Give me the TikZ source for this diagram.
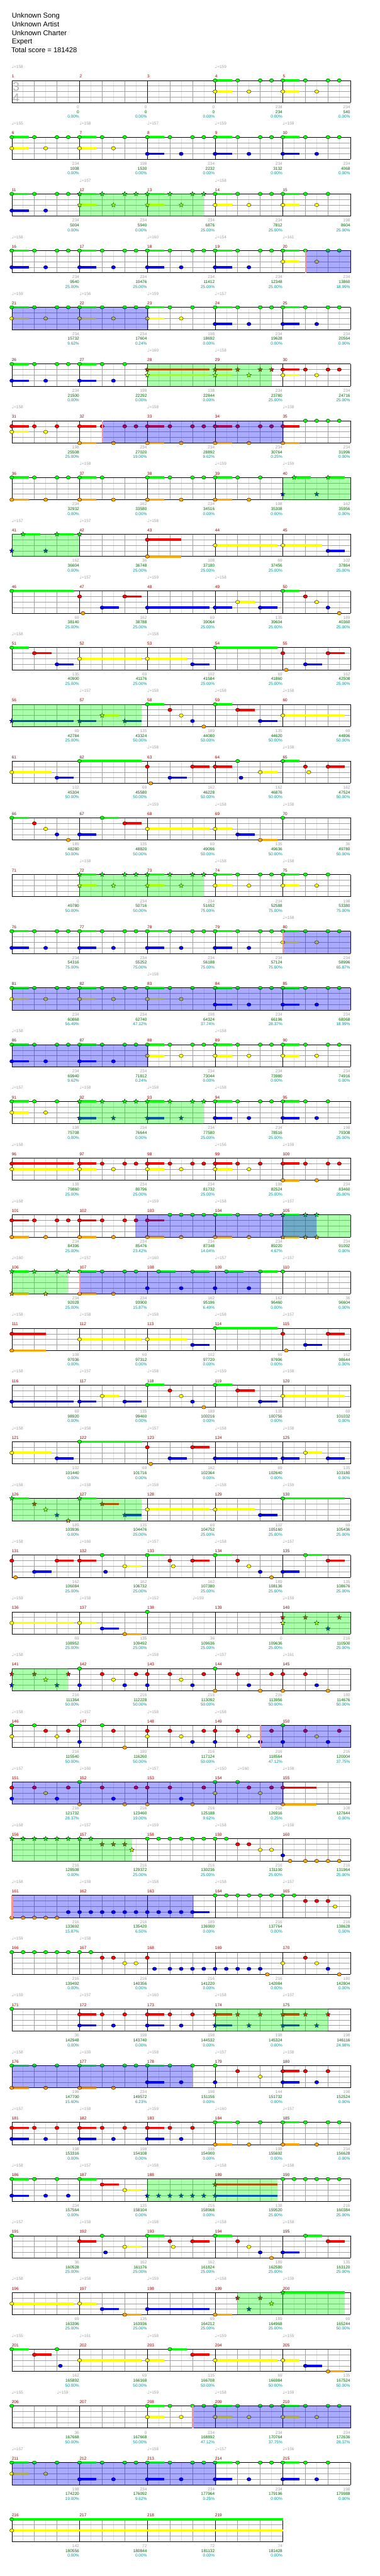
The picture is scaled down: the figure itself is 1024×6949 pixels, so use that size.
\documentclass[tikz,border=0pt]{standalone}
\usepackage{fontspec}
\setmainfont{Liberation Sans}
\newfontfamily\notefont{DejaVu Sans}
\usepackage{xcolor}
\usepackage{tikz}

\definecolor{lane0}{RGB}{0,255,0}
\definecolor{lane1}{RGB}{255,0,0}
\definecolor{lane2}{RGB}{255,255,0}
\definecolor{lane3}{RGB}{0,0,255}
\definecolor{lane4}{RGB}{255,165,0}
\definecolor{gridgray}{RGB}{160,160,160}
\definecolor{gridlight}{RGB}{222,222,222}
\definecolor{measred}{RGB}{150,0,0}
\definecolor{scoregreen}{RGB}{0,102,0}
\definecolor{pctteal}{RGB}{0,150,150}
\definecolor{siggray}{RGB}{180,180,180}
\definecolor{actpink}{RGB}{242,150,150}

\tikzset{
  titleline/.style={anchor=base west, inner sep=0pt, font=\fontsize{19}{23}\selectfont},
  sigdigit/.style={anchor=base west, inner sep=0pt, text=siggray, font=\fontsize{33}{33}\selectfont},
  measnum/.style={anchor=base west, inner sep=0pt, text=measred, font=\fontsize{11}{13}\selectfont},
  tempo/.style={anchor=base west, inner sep=0pt, text=gridgray, font=\fontsize{11}{13}\selectfont},
  basescore/.style={anchor=base east, inner sep=0pt, text=gridgray, font=\fontsize{11}{13}\selectfont},
  runscore/.style={anchor=base east, inner sep=0pt, text=scoregreen, font=\fontsize{11}{13}\selectfont},
  pctlabel/.style={anchor=base east, inner sep=0pt, text=pctteal, font=\fontsize{11}{13}\selectfont},
  staffedge/.style={black, line width=1.3pt},
  lanegrid/.style={gridgray, line width=1pt},
  beatgrid/.style={gridgray, line width=0.8pt},
  halfgrid/.style={gridlight, line width=0.8pt},
  barline/.style={black, line width=0.8pt},
  gem/.style={draw=black, line width=0.6pt},
  spphrase/.style={fill=lane0, fill opacity=0.333},
  spactive/.style={fill=lane3, fill opacity=0.333}
}

% x of an eighth slot in a row, y of the top line of a row
\newcommand\slotx[1]{31.8+(#1)*30.45}
\newcommand\rowtop[1]{217+((#1)-1)*153}

% one staff: row, number of eighth slots
\newcommand\staff[2]{%
  \pgfmathsetmacro\sy{\rowtop{#1}}
  \pgfmathsetmacro\sx{\slotx{#2}}
  \foreach \k in {1,3,...,#2} \draw[halfgrid] ({\slotx{\k}},\sy) -- ++(0,60);
  \foreach \j in {1,2,3} \draw[lanegrid] (31.8,{\sy+15*\j}) -- (\sx,{\sy+15*\j});
  \foreach \k in {2,4,...,#2} \draw[beatgrid] ({\slotx{\k}},\sy) -- ++(0,60);
  \foreach \k in {0,6,...,#2} \draw[barline] ({\slotx{\k}},\sy) -- ++(0,60);
  \draw[staffedge] (31.8,\sy) -- (\sx,\sy) (31.8,{\sy+60}) -- (\sx,{\sy+60});
}

% notes of a row: lane/slot/sustain end (0 = none)
\newcommand\gems[2]{%
  \foreach \gl/\gp/\gf in {#2} {
    \pgfmathsetmacro\gx{\slotx{\gp}}
    \pgfmathsetmacro\gy{\rowtop{#1}+15*\gl}
    \ifdim\gf pt>0pt
      \fill[lane\gl] (\gx,{\gy-3}) rectangle ({\slotx{\gf}},{\gy+3});
    \fi
    \filldraw[gem, fill=lane\gl] (\gx,\gy) ellipse [x radius=5.6pt, y radius=4.6pt];
  }}

% star notes of a row, same format
\newcommand\stargems[2]{%
  \foreach \gl/\gp/\gf in {#2} {
    \pgfmathsetmacro\gx{\slotx{\gp}}
    \pgfmathsetmacro\gy{\rowtop{#1}+15*\gl}
    \ifdim\gf pt>0pt
      \fill[lane\gl] (\gx,{\gy-3}) rectangle ({\slotx{\gf}},{\gy+3});
    \fi
    \filldraw[gem, fill=lane\gl, shift={(\gx,\gy)}] (90:6.5pt) -- (126:2.7pt) -- (162:6.5pt) -- (198:2.7pt)
      -- (234:6.5pt) -- (270:2.7pt) -- (306:6.5pt) -- (342:2.7pt) -- (18:6.5pt) -- (54:2.7pt) -- cycle;
  }}

\begin{document}
\begin{tikzpicture}[x=1pt, y=-1pt]
  \useasboundingbox (0,0) rectangle (1024,6949);
  \fill[white] (0,0) rectangle (1024,6949);

  % header
  \node[titleline] (song) at (31.8,49) {Unknown Song};
  \node[titleline] (artist) at (31.8,72) {Unknown Artist};
  \node[titleline] (charter) at (31.8,95.5) {Unknown Charter};
  \node[titleline] (level) at (31.8,118.5) {Expert};
  \node[titleline] (total) at (30.5,141.5) {Total score = 181428};

  % staffs
  \foreach \sr in {1,...,43} {\staff{\sr}{30}}
  \staff{44}{24}
  \node[sigdigit] (sigtop) at (34,245) {3};
  \node[sigdigit] (sigbot) at (34,275) {4};

  % measure numbers
  \foreach \m in {1,...,219} {
    \pgfmathtruncatemacro\mr{(\m-1)/5}
    \pgfmathtruncatemacro\mc{\m-1-5*\mr}
    \node[measnum] (meas\m) at ({31.8+\mc*182.7},{217+\mr*153-7}) {\m};
  }

  % tempo marks: row/slot/bpm
  \foreach \tr/\tp/\tv [count=\ti] in {1/0/158,1/18/159,
    2/0/155,2/6/158,2/12/157,2/18/159,2/24/159, 3/6/157,3/18/158,
    4/0/158,4/12/160,4/18/154,4/24/161, 5/0/159,5/6/156,5/12/159,5/18/157,
    6/12/160,6/18/158, 7/0/158,7/12/158,7/24/158, 8/6/158,8/18/159,8/24/159,
    9/0/157,9/6/157,9/12/158, 10/6/157,10/12/159,10/18/158, 11/0/158,11/12/158,
    12/6/157,12/12/158,12/18/158,12/24/158, 13/12/158,13/24/158,
    14/12/159,14/18/158,14/24/158, 15/6/158,15/18/158,15/24/158, 16/24/158, 17/12/158,
    18/0/158,18/18/158, 19/0/157,19/6/158,19/12/158,19/18/158, 20/0/158,20/18/156,20/24/159,
    21/0/158,21/12/159,21/18/158,21/24/157, 22/0/160,22/6/157,22/12/160,22/18/157,22/24/157,
    23/0/158,23/6/158,23/12/158,23/18/158,23/24/157, 24/0/158,24/6/157,24/12/158,24/18/159,24/24/158,
    25/0/158,25/6/158,25/12/157,25/18/158,25/24/158, 26/0/158,26/6/158,26/12/158,26/18/158,26/24/159,
    27/0/158,27/6/160,27/12/157,27/18/158,27/24/157, 28/0/159,28/6/158,28/12/152,28/16/159,28/24/159,
    29/0/158,29/12/158,29/18/157,29/24/161, 30/0/158,30/6/157,30/12/158,30/18/158,
    31/0/157,31/6/160,31/12/157,31/18/150,31/20/160,31/24/158, 32/0/158,32/6/157,32/12/159,32/18/158,32/24/158,
    33/0/158,33/6/159,33/12/158,33/18/158,33/24/157, 34/0/159,34/6/158,
    35/0/159,35/6/157,35/12/160,35/18/158,35/24/157, 36/0/158,36/6/159,36/12/158,36/18/157,36/24/158,
    37/0/157,37/6/158,37/12/159,37/18/160,37/24/157, 38/0/158,38/6/157,38/12/158,38/18/158,38/24/158,
    39/0/157,39/6/158,39/12/158,39/18/158,39/24/158, 40/0/158,40/6/158,40/12/159,40/18/158,40/24/159,
    41/0/155,41/6/161,41/12/158,41/18/159,41/24/155, 42/0/155,42/4/159,42/12/159,42/18/158,42/24/159,
    43/0/157,43/12/158,43/18/157,43/24/156}
    \node[tempo] (tempo\ti) at ({\slotx{\tp}},{\rowtop{\tr}-32.7}) {{\notefont\fontsize{12}{12}\selectfont ♩}=\tv};

  % notes
  \gems{1}{0/18/19.5,0/20/0,0/22/0,0/23/0,0/24/25.5,0/26/0,0/28/0,0/29/0,2/18/19.5,2/21/0,2/24/25.5,2/27/0}
  \gems{2}{0/0/1.5,0/2/0,0/4/0,0/5/0,0/6/7.5,0/8/0,0/10/0,0/12/13.5,0/14/0,0/16/0,0/17/0,0/18/19.5,0/20/0,0/22/0,0/23/0,0/24/25.5,0/26/0,0/28/0,0/29/0,
    2/0/1.5,2/3/0,2/6/7.5,2/9/0,3/12/13.5,3/15/0,3/18/19.5,3/21/0,3/24/25.5,3/27/0}
  \gems{3}{0/0/1.5,0/2/0,0/4/0,0/5/0,3/0/1.5,3/3/0,0/18/19.5,0/20/0,0/22/0,0/23/0,0/24/25.5,0/26/0,0/28/0,2/18/19.5,2/21/0,2/24/25.5,2/27/0}
  \stargems{3}{0/6/7.5,0/8/0,0/10/0,0/11/0,0/12/13.5,0/14/0,0/16/0,0/17/0,2/6/7.5,2/9/0,2/12/13.5,2/15/0}
  \gems{4}{0/0/1.5,0/2/0,0/4/0,0/5/0,0/6/7.5,0/8/0,0/10/0,0/11/0,0/12/13.5,0/14/0,0/16/0,0/17/0,0/18/19.5,0/20/0,0/22/0,0/23/0,0/24/25.5,0/26/0,0/28/0,0/29/0,
    2/24/25.5,2/27/0,3/0/1.5,3/3/0,3/6/7.5,3/9/0,3/12/13.5,3/15/0,3/18/19.5,3/21/0}
  \gems{5}{0/0/1.5,0/2/0,0/4/0,0/5/0,0/6/7.5,0/8/0,0/10/0,0/11/0,0/12/13.5,0/14/0,0/16/0,0/18/19.5,0/20/0,0/22/0,0/23/0,0/24/25.5,0/26/0,0/28/0,0/29/0,
    2/0/1.5,2/3/0,2/6/7.5,2/9/0,2/12/13.5,2/15/0,3/18/19.5,3/21/0,3/24/25.5,3/27/0}
  \gems{6}{0/0/1.5,0/2/0,0/4/0,0/5/0,0/6/7.5,0/8/0,0/10/0,3/0/1.5,3/3/0,3/6/7.5,3/9/0,1/24/25.5,1/26/0,1/28/0,1/29/0,2/24/25.5,2/27/0}
  \stargems{6}{1/12/17.5,1/18/19.5,1/20/0,1/22/0,1/23/0,2/12/17.5,2/18/19.5,2/21/0}
  \gems{7}{1/0/1.5,1/2/0,1/4/0,1/6/7.5,1/8/0,1/10/0,1/11/0,1/12/13.5,1/14/0,1/16/0,1/17/0,1/18/19.5,1/20/0,1/22/0,1/23/0,1/24/25.5,
    0/26/0,0/27/0,0/28/0,0/29/0,2/0/1.5,2/3/0,4/6/7.5,4/9/0,4/12/13.5,4/15/0,4/18/19.5,4/21/0,4/24/25.5}
  \gems{8}{0/0/1.5,0/2/0,0/4/0,0/5/0,0/6/7.5,0/8/0,0/12/13.5,0/14/0,0/16/0,0/17/0,0/18/19.5,0/20/0,0/22/0,
    4/0/1.5,4/3/0,4/6/7.5,4/9/0,4/12/13.5,4/15/0,4/18/19.5,4/21/0}
  \stargems{8}{0/25/26.5,0/28/29.5,3/24/0,3/27/0}
  \stargems{9}{0/1/2.5,0/4/5.5,0/6/0,3/0/0,3/3/0}
  \gems{9}{1/12/15,4/12/15,2/18/23.5,2/24/27.5,3/28/29.5}
  \gems{10}{0/0/5.5,1/6/0,4/6.3/0,3/8/9.5,1/10/11.5,3/12/17.5,3/18/19.5,2/20/21.5,3/22/23.5,0/24/25.5,1/26/0,2/27/0,3/28/0,4/29/0}
  \gems{11}{0/0/1.5,1/2/3.5,3/4/5.5,2/6/11.5,2/12/15.5,3/16/17.5,0/18/23.5,1/24/0,4/24.3/0,3/26/27.5,1/28/29.5}
  \stargems{12}{3/0/5.5,3/6/7.5,2/8/9.5,3/10/11.5}
  \gems{12}{0/12/13.5,1/14/0,2/15/0,3/16/0,4/17/0,0/18/19.5,1/20/21.5,3/22/23.5,2/24/29.5}
  \gems{13}{2/0/3.5,3/4/5.5,0/6/11.5,1/12/0,4/12.3/0,3/14/15.5,1/16/17.5,1/18/19.5,0/20/0,3/20.3/0,2/22/23.5,0/24/25.5,1/26/0,2/26.3/0,1/28/29.5}
  \gems{14}{0/0/1.5,1/2/0,2/3/0,3/4/0,4/5/0,3/6/7.5,0/8/9.5,1/10/11.5,2/12/17.5,2/18/19.5,3/20/21.5,4/22/23.5,0/24/0}
  \gems{15}{0/18/19.5,0/20/0,0/22/0,0/23/0,0/24/25.5,0/26/0,0/28/0,2/18/19.5,2/21/0,2/24/25.5,2/27/0}
  \stargems{15}{0/6/7.5,0/8/0,0/10/0,0/11/0,0/12/13.5,0/14/0,0/16/0,0/17/0,2/6/7.5,2/9/0,2/12/13.5,2/15/0}
  \gems{16}{0/0/1.5,0/2/0,0/4/0,0/5/0,0/6/7.5,0/8/0,0/10/0,0/11/0,0/12/13.5,0/14/0,0/16/0,0/17/0,0/18/19.5,0/20/0,0/22/0,0/23/0,0/24/25.5,0/26/0,0/28/0,0/29/0,
    3/0/1.5,3/3/0,3/6/7.5,3/9/0,3/12/13.5,3/15/0,3/18/19.5,3/21/0,2/24/25.5,2/27/0}
  \gems{17}{0/0/1.5,0/2/0,0/4/0,0/5/0,0/6/7.5,0/8/0,0/10/0,0/11/0,0/12/13.5,0/14/0,0/16/0,0/18/19.5,0/20/0,0/22/0,0/23/0,0/24/25.5,0/26/0,0/28/0,0/29/0,
    2/0/1.5,2/3/0,2/6/7.5,2/9/0,2/12/13.5,2/15/0,3/18/19.5,3/21/0,3/24/25.5,3/27/0}
  \gems{18}{0/0/1.5,0/2/0,0/4/0,0/5/0,0/6/7.5,0/8/0,0/10/0,0/11/0,0/12/13.5,0/14/0,0/16/0,0/17/0,0/18/19.5,0/20/0,0/22/0,0/23/0,0/24/25.5,0/26/0,0/28/0,0/29/0,
    3/0/1.5,3/3/0,3/6/7.5,3/9/0,2/12/13.5,2/15/0,2/18/19.5,2/21/0,2/24/25.5,2/27/0}
  \gems{19}{0/0/1.5,0/2/0,0/4/0,2/0/1.5,2/3/0,0/18/19.5,0/20/0,0/22/0,0/23/0,0/24/25.5,0/26/0,0/28/0,3/18/19.5,3/21/0,3/24/25.5,3/27/0}
  \stargems{19}{0/6/7.5,0/8/0,0/10/0,0/11/0,0/12/13.5,0/14/0,0/16/0,0/17/0,3/6/7.5,3/9/0,3/12/13.5,3/15/0}
  \gems{20}{1/0/5.5,2/0/5.5,1/6/7.5,1/8/0,1/10/0,1/11/0,1/12/13.5,1/14/0,1/16/0,1/17/0,1/18/19.5,1/20/0,1/22/0,1/24/25.5,1/26/0,1/28/0,1/29/0,
    2/6/7.5,2/9/0,2/12/13.5,2/15/0,2/18/19.5,2/21/0,4/24/25.5,4/27/0}
  \gems{21}{1/0/1.5,1/2/0,1/4/0,1/5/0,1/6/7.5,1/8/0,1/10/0,1/11/0,1/12/13.5,4/0/1.5,4/3/0,4/6/7.5,4/9/0,4/12/13.5,4/15/0,4/18/19.5,4/21/0,
    0/14/0,0/15/0,0/16/0,0/17/0,0/18/19.5,0/20/0,0/22/0,0/23/0}
  \stargems{21}{0/24/25.5,0/26/0,0/27/0,4/24/25.5,4/26/0,4/27/0}
  \stargems{22}{0/0/1.5,0/2/0,0/4/0,0/5/0,4/0/1.5,4/3/0}
  \gems{22}{0/6/7.5,0/8/0,0/10/0,0/11/0,0/13/14.5,0/16/17.5,0/19/20.5,0/22/23.5,0/24/0,4/6/7.5,4/9/0,3/12/0,3/15/0,3/18/0,3/21/0}
  \gems{23}{1/0/3,4/0/3,2/6/11.5,2/12/15.5,3/16/17.5,0/18/23.5,1/24/0,4/24.3/0,3/26/27.5,1/28/29.5}
  \gems{24}{3/0/5.5,3/6/7.5,2/8/9.5,3/10/11.5,0/12/13.5,1/14/0,2/15/0,3/16/0,4/17/0,0/18/19.5,1/20/21.5,3/22/23.5,2/24/29.5}
  \gems{25}{2/0/3.5,3/4/5.5,0/6/11.5,1/12/0,4/12.3/0,3/14/15.5,1/16/17.5,3/18/23.5,3/24/25.5,2/26/27.5,3/28/29.5}
  \stargems{26}{0/0/1.5,1/2/0,2/3/0,3/4/0,4/5/0,0/6/7.5,1/8/9.5,3/10/11.5}
  \gems{26}{2/12/17.5,2/18/21.5,3/22/23.5,0/24/29.5}
  \gems{27}{1/0/0,4/0.33/0,3/2/3.5,1/4/5.5,1/6/7.5,0/8/0,3/8.3/0,2/10/11.5,0/12/13.5,1/14/0,2/14.3/0,1/16/17.5,0/18/19.5,1/20/0,2/21/0,3/22/0,4/23/0,
    3/24/25.5,0/26/27.5,1/28/29.5}
  \gems{28}{2/0/5.5,2/6/7.5,3/8/9.5,4/10/11.5,0/12/0}
  \stargems{28}{1/24/0,1/26/0,1/29/0,2/24/0,2/27/0,3/28/0}
  \stargems{29}{1/0/0,1/2/0,1/5/0,2/3/0,3/0/0,3/4/0}
  \gems{29}{0/6/0,3/6/0,1/8/0,2/9/0,3/10/0,1/11/0,1/12/0,3/12/0,1/14/0,2/15/0,3/16/0,1/17/0,0/18/0,4/18/0,1/20/0,3/21/0,4/22/0,1/23/0,1/24/0,4/24/0,
    1/26/0,3/27/0,4/28/0}
  \gems{30}{0/0/0,0/2/0,0/6/0,0/8/0,0/24/0,1/3/0,1/5/0,1/9/0,1/12/0,1/14/0,1/17/0,1/18/0,1/20/0,1/23/0,1/26/0,1/29/0,
    2/0/0,2/4/0,2/12/0,2/15/0,2/21/0,2/27/0,3/6/0,3/16/0,3/18/0,3/22/0,3/24/0,3/28/0,4/10/0}
  \gems{31}{1/0/0,1/2/0,1/5/0,1/8/0,1/11/0,1/12/0,1/14/0,1/17/0,1/21/0,1/23/0,1/24/27,2/3/0,2/18/0,2/22/0,3/0/0,3/4/0,3/9/0,3/15/0,
    0/6/0,0/18/0,0/20/0,4/6/0,4/10/0,4/12/0,4/16/0,4/24/27}
  \stargems{32}{0/0/0,0/1/0,0/2/0,0/3/0,0/4/0,0/5/0,0/6/0,0/7/0,1/8/0,1/9/0,1/10/0,2/10.63/0}
  \gems{32}{0/12/0,0/13/0,0/14/0,0/15/0,0/16/0,0/17/0,0/18/0,0/19/0,1/20/0,1/21/0,2/22/0,2/23/0,3/24/0,4/24.64/0,4/26/0,4/27/0,4/28/0,4/29/0}
  \gems{33}{4/0/0,4/1/0,4/2/0,4/3/0,4/4/0,3/5/0,3/6/0,3/7/0,3/8/0,3/9/0,3/10/0,3/11/0,3/12/0,3/13/0,3/14/0,3/15/0,3/16/17.5,
    0/18/0,0/19/0,0/20/0,0/21/0,0/22/0,0/23/0,0/24/0,0/25/0,1/26/0,1/27/0,1/28/0,2/28.63/0}
  \gems{34}{0/0/0,0/1/0,0/2/0,0/3/0,0/4/0,0/5/0,0/6/0,0/7/0,1/8/0,1/9/0,2/10/0,2/11/0,1/12/0,3/12.64/0,3/14/0,3/15/0,3/16/0,3/17/0,3/18/0,
    3/19/0,3/20/0,3/21/0,3/22/0,4/22.63/0,2/24/0,1/26/0,2/27/0,3/28/0,4/29/0}
  \gems{35}{0/0/0,1/6/7.5,1/8/0,1/10/0,1/12/13.5,1/14/0,1/16/0,3/6/7.5,3/9/0,3/12/13.5,3/15/0}
  \stargems{35}{1/18/19.5,1/20/0,1/22/0,1/24/25.5,1/26/0,1/28/0,3/18/19.5,3/21/0,3/24/25.5,3/27/0}
  \gems{36}{0/0/1.5,0/2/0,0/4/0,0/6/7.5,0/8/0,0/10/0,0/11/0,0/12/13.5,0/14/0,0/16/0,0/18/0,4/0/1.5,4/3/0,4/6/7.5,4/9/0,
    3/12/13.5,3/15/0,3/18/0,1/20/0,2/22/0,1/24/25.5,1/26/0,1/28/0,3/24/25.5,3/27/0}
  \gems{37}{1/0/1.5,1/2/0,1/4/0,1/6/7.5,1/8/0,1/10/0,1/12/13.5,1/14/0,1/16/0,3/0/1.5,3/3/0,3/6/7.5,3/9/0,3/12/13.5,3/15/0,
    0/18/19.5,0/20/0,0/22/0,0/24/25.5,0/26/0,0/28/0,0/29/0,4/18/19.5,4/21/0,4/24/25.5,4/27/0}
  \gems{38}{0/0/1.5,0/2/0,0/4/0,0/6/7.5,1/8/9.5,2/10/11.5,3/0/1.5,3/3/0,3/5/0,0/24/0,0/25/0,0/26/0,0/27/0,0/28/0,0/29/0}
  \stargems{38}{3/12/0,3/13/0,3/14/0,3/15/0,3/16/0,3/17/0,3/18/23.5,1/18/23.5}
  \gems{39}{0/0/0,1/6/7.5,0/8/0,3/8.3/0,2/10/11.5,0/12/13.5,1/14/0,2/14.3/0,1/16/17.5,0/18/19.5,1/20/0,2/21/0,3/22/0,4/23/0,
    3/24/25.5,0/26/27.5,1/28/29.5}
  \gems{40}{2/0/5.5,2/6/7.5,3/8/9.5,4/10/11.5,3/12/17.5,4/18/19.5}
  \stargems{40}{1/20/0,1/22/0,3/21/0,2/23/0,0/24/29.5}
  \gems{41}{0/0/1.5,1/2/3.5,0/4/0,3/4.3/0,2/6/11.5,2/12/13.5,0/14/15.5,1/16/17.5,2/18/23.5,2/24/25.5,3/26/27.5,4/28/29.5}
  \gems{42}{0/0/0,0/12/13.5,0/14/0,0/16/0,0/17/0,0/18/19.5,0/20/0,0/22/0,0/23/0,0/24/25.5,0/26/0,0/28/0,0/29/0,
    2/12/13.5,2/15/0,2/18/19.5,2/21/0,2/24/25.5,2/27/0}
  \gems{43}{0/0/1.5,0/2/0,0/4/0,0/6/7.5,0/8/0,0/10/0,0/11/0,0/12/13.5,0/14/0,0/16/0,0/17/0,0/18/19.5,0/20/0,0/22/0,0/23/0,0/24/25.5,0/26/0,0/28/0,
    2/0/1.5,2/3/0,3/6/7.5,3/9/0,3/12/13.5,3/15/0,3/18/19.5,3/21/0,3/24/25.5,3/27/0}
  \gems{44}{0/0/24,2/0/24}

  % star power phrases and activations
  \foreach \sr/\sa/\sb in {3/6/17,6/12/23,8/24/30,9/0/6,12/0/11.5,15/6/17,19/6/17,21/24/30,22/0/5,
      26/0/11.5,28/24/30,29/0/5,32/0/10.63,35/18/28,38/12/23.5,40/20/29.5}
    \fill[spphrase] ({\slotx{\sa}},{\rowtop{\sr}}) rectangle ({\slotx{\sb}},{\rowtop{\sr}+60});
  \foreach \sr/\sa/\sb in {4/26/30,5/0/12.1,7/8/24.1,16/24/30,17/0/30,18/0/12.1,21/10.96/27,22/6/22.1,
      30/22/30,31/0/24.1,33/0/16.1,36/0/16,42/16/30,43/0/18.1}
    \fill[spactive] ({\slotx{\sa}},{\rowtop{\sr}}) rectangle ({\slotx{\sb}},{\rowtop{\sr}+60});
  \foreach \sr/\sa in {4/26,7/8,16/24,22/6,30/22,33/0,42/16}
    \fill[actpink] ({\slotx{\sa}-1},{\rowtop{\sr}}) rectangle ({\slotx{\sa}+3},{\rowtop{\sr}+60});

  % per-measure scores: measure/base/running/star percentage
  \foreach \sm/\sa/\sb/\sc in {1/0/0/0.00,2/0/0/0.00,3/0/0/0.00,4/234/234/0.00,5/234/540/0.00,
    6/234/1008/0.00,7/198/1530/0.00,8/234/2232/0.00,9/234/3132/0.00,10/234/4068/0.00,
    11/234/5004/0.00,12/234/5940/0.00,13/234/6876/25.00,14/234/7812/25.00,15/198/8604/25.00,
    16/234/9540/25.00,17/234/10476/25.00,18/234/11412/25.00,19/234/12348/25.00,20/234/13860/18.99,
    21/234/15732/9.62,22/234/17604/0.24,23/198/18692/0.00,24/234/19628/0.00,25/234/20564/0.00,
    26/234/21500/0.00,27/198/22292/0.00,28/138/22844/0.00,29/234/23780/25.00,30/234/24716/25.00,
    31/198/25508/25.00,32/234/27020/19.00,33/234/28892/9.62,34/234/30764/0.25,35/234/31996/0.00,
    36/234/32932/0.00,37/162/33580/0.00,38/234/34516/0.00,39/198/35308/0.00,40/162/35956/0.00,
    41/162/36604/0.00,42/36/36748/25.00,43/108/37180/25.00,44/69/37456/25.00,45/102/37864/25.00,
    46/69/38140/25.00,47/162/38788/25.00,48/69/39064/25.00,49/135/39604/25.00,50/189/40360/25.00,
    51/135/40900/25.00,52/69/41176/25.00,53/102/41584/25.00,54/69/41860/25.00,55/162/42508/25.00,
    56/69/42784/25.00,57/135/43324/50.00,58/189/44080/50.00,59/135/44620/50.00,60/69/44896/50.00,
    61/102/45304/50.00,62/69/45580/50.00,63/162/46228/50.00,64/162/46876/50.00,65/162/47524/50.00,
    66/189/48280/50.00,67/135/48820/50.00,68/69/49096/50.00,69/135/49636/50.00,70/36/49780/50.00,
    71/0/49780/50.00,72/234/50716/50.00,73/234/51652/75.00,74/234/52588/75.00,75/198/53380/75.00,
    76/234/54316/75.00,77/234/55252/75.00,78/234/56188/75.00,79/234/57124/75.00,80/234/58996/65.87,
    81/234/60868/56.49,82/234/62740/47.12,83/198/64324/37.74,84/234/66196/28.37,85/234/68068/18.99,
    86/234/69940/9.62,87/234/71812/0.24,88/234/73044/0.00,89/234/73980/0.00,90/234/74916/0.00,
    91/198/75708/0.00,92/234/76644/0.00,93/234/77580/25.00,94/234/78516/25.00,95/198/79308/25.00,
    96/138/79860/25.00,97/234/80796/25.00,98/234/81732/25.00,99/198/82524/25.00,100/234/83460/25.00,
    101/234/84396/25.00,102/234/85476/23.42,103/234/87348/14.04,104/234/89220/4.67,105/234/91092/0.00,
    106/234/92028/25.00,107/234/93900/15.87,108/162/95196/6.49,109/162/96460/0.00,110/36/96604/0.00,
    111/108/97036/0.00,112/69/97312/0.00,113/102/97720/0.00,114/69/97996/0.00,115/162/98644/0.00,
    116/69/98920/0.00,117/135/99460/0.00,118/189/100216/0.00,119/135/100756/0.00,120/69/101032/0.00,
    121/102/101440/0.00,122/69/101716/0.00,123/162/102364/0.00,124/69/102640/0.00,125/135/103180/0.00,
    126/189/103936/0.00,127/135/104476/25.00,128/69/104752/25.00,129/102/105160/25.00,130/69/105436/25.00,
    131/162/106084/25.00,132/162/106732/25.00,133/162/107380/25.00,134/189/108136/25.00,135/135/108676/25.00,
    136/69/108952/25.00,137/135/109492/25.00,138/36/109636/25.00,139/0/109636/25.00,140/216/110500/25.00,
    141/216/111364/50.00,142/216/112228/50.00,143/216/113092/50.00,144/216/113956/50.00,145/180/114676/50.00,
    146/216/115540/50.00,147/180/116260/50.00,148/216/117124/50.00,149/216/118564/47.12,150/216/120004/37.75,
    151/216/121732/28.37,152/216/123460/19.00,153/216/125188/9.62,154/216/126916/0.25,155/108/127644/0.00,
    156/216/128508/0.00,157/216/129372/25.00,158/216/130236/25.00,159/216/131100/25.00,160/216/131964/25.00,
    161/216/133692/15.87,162/216/135420/6.50,163/189/136900/0.00,164/216/137764/0.00,165/216/138628/0.00,
    166/216/139492/0.00,167/216/140356/0.00,168/216/141220/0.00,169/216/142084/0.00,170/180/142804/0.00,
    171/36/142948/0.00,172/198/143740/0.00,173/198/144532/0.00,174/198/145324/0.00,175/198/146116/24.98,
    176/198/147700/15.60,177/234/149572/6.23,178/198/151156/0.00,179/144/151732/0.00,180/198/152524/0.00,
    181/198/153316/0.00,182/198/154108/0.00,183/198/154900/0.00,184/198/155692/0.00,185/234/156628/0.00,
    186/234/157564/0.00,187/135/158104/0.00,188/216/158968/0.00,189/138/159520/25.00,190/216/160384/25.00,
    191/36/160528/25.00,192/162/161176/25.00,193/162/161824/25.00,194/189/162580/25.00,195/135/163120/25.00,
    196/69/163396/25.00,197/135/163936/25.00,198/69/164212/25.00,199/189/164968/25.00,200/69/165244/50.00,
    201/162/165892/50.00,202/69/166168/50.00,203/135/166708/50.00,204/69/166984/50.00,205/135/167524/50.00,
    206/36/167668/50.00,207/0/167668/50.00,208/234/168892/47.12,209/234/170764/37.75,210/234/172636/28.37,
    211/198/174220/19.00,212/234/176092/9.62,213/234/177964/0.25,214/234/179196/0.00,215/198/179988/0.00,
    216/142/180556/0.00,217/72/180844/0.00,218/72/181132/0.00,219/74/181428/0.00} {
    \pgfmathtruncatemacro\mr{(\sm-1)/5}
    \pgfmathtruncatemacro\mc{\sm-1-5*\mr}
    \pgfmathsetmacro\ex{31.8+(\mc+1)*182.7-1}
    \pgfmathsetmacro\ey{217+\mr*153}
    \node[basescore] (base\sm) at (\ex,{\ey+75.5}) {\sa};
    \node[runscore] (run\sm) at (\ex,{\ey+88.5}) {\sb};
    \node[pctlabel] (pct\sm) at (\ex,{\ey+101.5}) {\sc\%};
  }
\end{tikzpicture}
\end{document}
